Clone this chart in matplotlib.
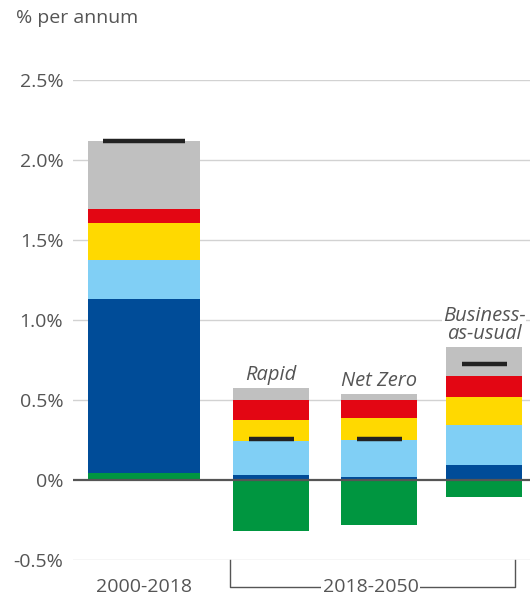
import matplotlib
matplotlib.use("Agg")
import matplotlib.pyplot as plt
import numpy as np

plt.rcParams['font.family'] = ['Open Sans', 'DejaVu Sans']

# Contributions to growth, % per annum
periods = ["2000-2018", "Rapid", "Net Zero", "Business-\nas-usual"]
green = [0.045, -0.317, -0.281, -0.104]
dark_blue = [1.086, 0.031, 0.019, 0.094]
light_blue = [0.246, 0.213, 0.233, 0.250]
yellow = [0.229, 0.131, 0.135, 0.175]
red = [0.088, 0.125, 0.1125, 0.131]
grey = [0.425, 0.075, 0.0375, 0.181]
net_total = [2.117, 0.258, 0.258, 0.727]
y_ticks = [-0.5, 0.0, 0.5, 1.0, 1.5, 2.0, 2.5]
y_tick_labels = ["-0.5%", "0%", "0.5%", "1.0%", "1.5%", "2.0%", "2.5%"]
group_labels = ["2000-2018", "2018-2050"]

positive_stack = [dark_blue, light_blue, yellow, red, grey]
stack_colors = ["#004c98", "#80cff5", "#ffd900", "#e30613", "#c0c0c0"]
green_color = "#009640"
text_grey = "#555555"

W, H = 530, 599
fig = plt.figure(figsize=(W / 100, H / 100), dpi=100)
ax = fig.add_axes([73 / W, (H - 560) / H, (W - 73) / W, 480 / H])

xpos = np.array([0.0, 1.27, 2.35, 3.40])
widths = np.array([1.12, 0.76, 0.76, 0.76])
marker_half = np.array([0.41, 0.225, 0.225, 0.225])

ax.set_xlim(-0.71, 3.86)
ax.set_ylim(-0.5, 2.5)

# grid
for t in y_ticks:
    if t == 0:
        continue
    ax.axhline(t, color="#d2d2d2", lw=1.0, zorder=0)

# green component sits below zero when negative, at the base of the stack when positive
green_arr = np.array(green)
ax.bar(xpos, green_arr, width=widths, color=green_color, zorder=2, linewidth=0)
bottom = np.clip(green_arr, 0, None)
for vals, col in zip(positive_stack, stack_colors):
    ax.bar(xpos, vals, width=widths, bottom=bottom, color=col, zorder=2, linewidth=0)
    bottom = bottom + np.array(vals)

ax.axhline(0, color="#555555", lw=1.6, zorder=3)

# net total markers
ax.hlines(net_total, xpos - marker_half, xpos + marker_half, color="#222222", lw=3.2, zorder=4)

# scenario labels just above each bar
for i in range(1, 4):
    ax.annotate(periods[i], (xpos[i], bottom[i]), xytext=(0, 6),
                textcoords="offset points", ha="center", va="baseline", style="italic",
                fontsize=14.5, color=text_grey, zorder=5, linespacing=0.88,
                multialignment="center",
                bbox=dict(facecolor="white", edgecolor="none", pad=0.5))

# axes cosmetics
for s in ax.spines.values():
    s.set_visible(False)
ax.set_xticks([])
ax.set_yticks(y_ticks)
ax.set_yticklabels(y_tick_labels)
ax.tick_params(axis="y", length=0, pad=7, labelsize=14, labelcolor=text_grey)

# category labels under the axis
ylab = -0.669
ax.text(xpos[0], ylab, group_labels[0], ha="center", va="center", fontsize=14,
        color=text_grey, clip_on=False)
bx0, bx1 = 0.86, 3.71
ax.plot([bx0, bx0, bx1, bx1], [-0.5, ylab, ylab, -0.5], color=text_grey, lw=1.0,
        clip_on=False, zorder=1)
ax.text((bx0 + bx1) / 2 - 0.02, ylab, group_labels[1], ha="center", va="center", fontsize=14,
        color=text_grey, clip_on=False, zorder=2,
        bbox=dict(facecolor="white", edgecolor="none", pad=1))

fig.text(16 / W, 1 - 18 / H, "% per annum", ha="left", va="center", fontsize=14, color=text_grey)

fig.savefig("out.png", dpi=100)
